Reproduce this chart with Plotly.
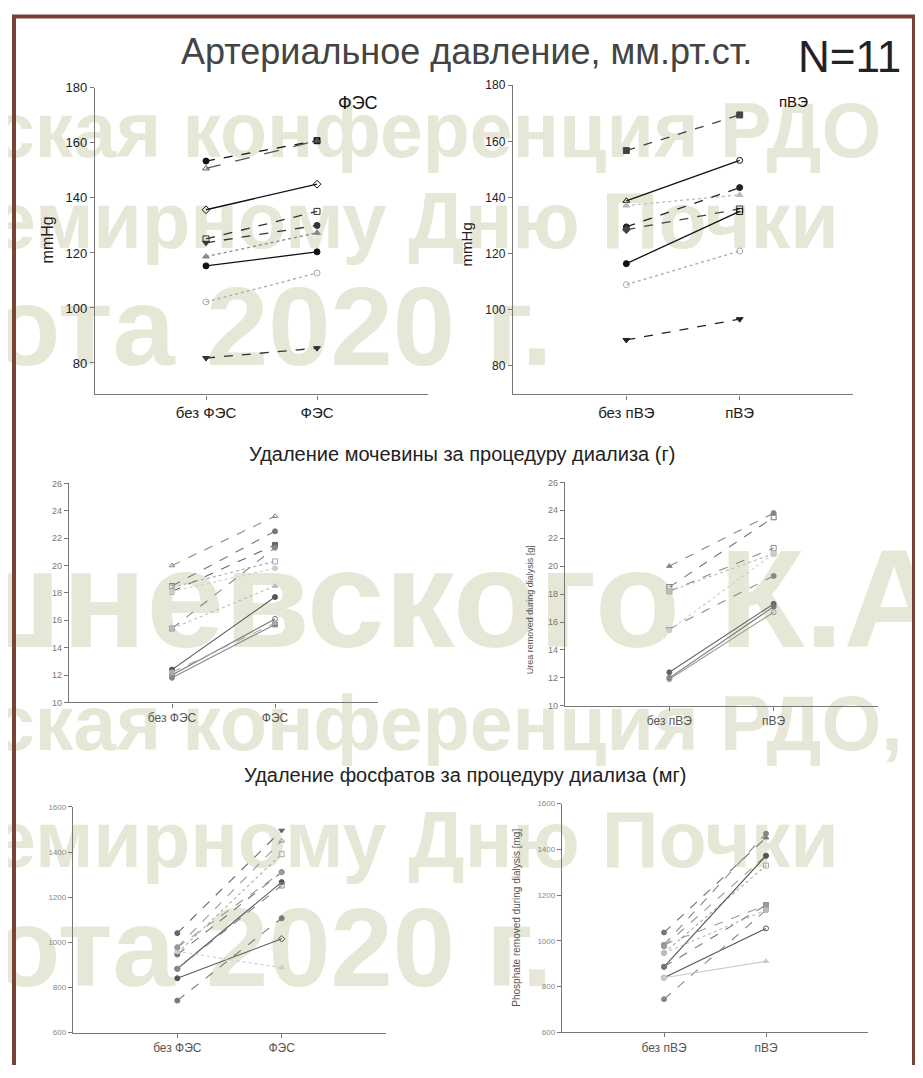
import plotly.graph_objects as go

# page has an 8px body margin, so the figure is placed at (8, 8)
OFF = 8
W, H = 907, 1062

# ---------------- data ----------------
cats_fes = ["без ФЭС", "ФЭС"]
cats_pve = ["без пВЭ", "пВЭ"]

bp_fes_before = [153.4, 150.7, 135.7, 125.1, 123.7, 118.7, 115.3, 102.2, 81.8]
bp_fes_after = [160.8, 160.8, 145.0, 135.1, 130.0, 127.3, 120.4, 112.7, 85.4]

bp_pve_before = [156.7, 138.8, 137.1, 129.5, 128.5, 116.4, 108.9, 89.2]
bp_pve_after = [169.4, 153.2, 140.9, 143.5, 135.9, 135.0, 120.9, 96.6]

urea_fes_before = [20.0, 18.5, 18.1, 18.4, 15.4, 15.4, 18.1, 12.4, 12.0, 11.8, 12.2]
urea_fes_after = [23.6, 22.5, 21.5, 20.3, 21.3, 18.5, 19.8, 17.7, 16.1, 15.7, 15.8]

urea_pve_before = [20.0, 18.5, 18.2, 18.2, 15.5, 15.4, 12.4, 12.0, 11.9]
urea_pve_after = [23.8, 23.5, 21.3, 20.9, 19.3, 20.9, 17.3, 17.1, 16.7]

phos_fes_before = [1041, 978, 953, 946, 883, 883, 841, 742, 960, 978]
phos_fes_after = [1496, 1450, 1391, 1311, 1267, 1252, 1016, 1107, 888, 1311]

phos_pve_before = [1036, 982, 975, 946, 886, 886, 838, 744, 982, 838, 946]
phos_pve_after = [1451, 1469, 1372, 1329, 1372, 1156, 1054, 1134, 1156, 910, 1134]

watermark_lines = [
    "шневского К.А", "ская конференция РДО", "емирному Дню Почки", "ота 2020 г.",
    "шневского К.А", "ская конференция РДО,", "емирному Дню Почки", "ота 2020 г.",
]

# ---------------- styles ----------------
bp_fes_style = [
    ("dash", "#111", "circle", "square"),
    ("longdash", "#555", "triangle-up-open", "triangle-up"),
    ("solid", "#111", "diamond-open", "diamond-open"),
    ("dash", "#333", "square-open", "square-open"),
    ("dash", "#333", "triangle-down", "circle"),
    ("dot", "#888", "triangle-up", "triangle-up"),
    ("solid", "#111", "circle", "circle"),
    ("dot", "#aaa", "circle-open", "circle-open"),
    ("dash", "#333", "triangle-down", "triangle-down"),
]
bp_pve_style = [
    ("dash", "#444", "square", "square"),
    ("solid", "#111", "triangle-up-open", "circle-open"),
    ("dot", "#bbb", "triangle-up", "triangle-up"),
    ("dash", "#222", "circle", "circle"),
    ("dash", "#444", "diamond", "square-open"),
    ("solid", "#111", "circle", "square-open"),
    ("dot", "#aaa", "circle-open", "circle-open"),
    ("dash", "#222", "triangle-down", "triangle-down"),
]
urea_fes_style = [
    ("dash", "#888", "triangle-up-open", "triangle-up-open"),
    ("dash", "#777", "square-open", "circle"),
    ("dash", "#666", "square", "square"),
    ("dot", "#aaa", "square-open", "square-open"),
    ("dash", "#888", "square", "circle"),
    ("dot", "#bbb", "circle", "triangle-up"),
    ("dot", "#ccc", "square", "circle"),
    ("solid", "#555", "circle", "circle"),
    ("solid", "#777", "circle-open", "circle-open"),
    ("solid", "#888", "circle", "square"),
    ("dash", "#aaa", "circle", "triangle-up"),
]
urea_pve_style = [
    ("dash", "#888", "triangle-up", "circle"),
    ("dash", "#777", "square-open", "square-open"),
    ("dash", "#888", "square", "square-open"),
    ("dot", "#bbb", "square", "square"),
    ("dash", "#888", "triangle-down", "circle"),
    ("dot", "#ccc", "circle", "circle"),
    ("solid", "#666", "circle", "circle"),
    ("solid", "#777", "circle", "circle"),
    ("solid", "#999", "circle-open", "circle-open"),
]
phos_fes_style = [
    ("dash", "#666", "circle", "triangle-down"),
    ("dash", "#999", "circle", "triangle-up-open"),
    ("dot", "#aaa", "circle-open", "square-open"),
    ("dash", "#777", "circle", "circle"),
    ("solid", "#555", "circle", "circle"),
    ("dash", "#888", "circle", "square-open"),
    ("solid", "#555", "circle", "diamond-open"),
    ("dash", "#777", "circle", "circle"),
    ("dot", "#ccc", "circle", "triangle-up"),
    ("dash", "#999", "circle", "circle"),
]
phos_pve_style = [
    ("dash", "#777", "circle", "triangle-up"),
    ("dash", "#888", "circle", "circle"),
    ("dash", "#999", "circle", "circle"),
    ("dot", "#aaa", "circle-open", "square-open"),
    ("solid", "#555", "circle", "circle"),
    ("dash", "#777", "circle", "square"),
    ("solid", "#555", "circle", "circle-open"),
    ("dash", "#888", "circle", "circle"),
    ("dash", "#999", "circle", "square"),
    ("solid", "#ccc", "circle", "triangle-up"),
    ("dot", "#bbb", "circle", "circle"),
]


def px(x):
    return (x - OFF) / W


def py(y):
    return 1 - (y - OFF) / H


fig = go.Figure()

# watermark layer (bottom subplot, page-pixel coordinates)
wm_x = [-55, -8, -8, -8, -55, -8, -8, -8]
wm_y = [-28, 132, 224, 334, 612, 732, 850, 962]
wm_size = [140, 77, 79, 112, 140, 77, 79, 112]
for t, xx, yy, s in zip(watermark_lines, wm_x, wm_y, wm_size):
    fig.add_trace(go.Scatter(
        x=[xx], y=[yy], mode="text", text=["<b>" + t + "</b>"],
        textposition="middle right",
        textfont=dict(family="Liberation Sans, Arial", size=s, color="rgb(231,231,216)"),
        hoverinfo="skip", showlegend=False, xaxis="x", yaxis="y", cliponaxis=True,
    ))

panels = [
    (bp_fes_before, bp_fes_after, bp_fes_style, cats_fes, (95, 428), (81.7, 391.7), (68.6, 180),
     [80, 100, 120, 140, 160, 180], dict(size=13, color="#222"), dict(size=15, color="#222"), 1.3, 6),
    (bp_pve_before, bp_pve_after, bp_pve_style, cats_pve, (513, 853), (79, 391.7), (69.8, 180),
     [80, 100, 120, 140, 160, 180], dict(size=12, color="#222"), dict(size=15, color="#222"), 1.3, 6),
    (urea_fes_before, urea_fes_after, urea_fes_style, cats_fes, (69, 378), (481.7, 703.3), (10, 26),
     [10, 12, 14, 16, 18, 20, 22, 24, 26], dict(size=9, color="#777"), dict(size=12, color="#555"), 1.1, 5),
    (urea_pve_before, urea_pve_after, urea_pve_style, cats_pve, (565, 878), (480.7, 706.7), (10, 26),
     [10, 12, 14, 16, 18, 20, 22, 24, 26], dict(size=9, color="#777"), dict(size=12, color="#555"), 1.1, 5),
    (phos_fes_before, phos_fes_after, phos_fes_style, cats_fes, (73, 386), (809, 1037.3), (600, 1600),
     [600, 800, 1000, 1200, 1400, 1600], dict(size=8, color="#888"), dict(size=12, color="#555"), 1.1, 5),
    (phos_pve_before, phos_pve_after, phos_pve_style, cats_pve, (562, 868), (805.7, 1036.7), (600, 1600),
     [600, 800, 1000, 1200, 1400, 1600], dict(size=8, color="#888"), dict(size=12, color="#555"), 1.1, 5),
]

layout_axes = {
    "xaxis": dict(domain=[0, 1], range=[OFF, OFF + W], visible=False, fixedrange=True),
    "yaxis": dict(domain=[0, 1], range=[OFF + H, OFF], visible=False, fixedrange=True),
}

for i, (bef, aft, sty, cats, xp, yp, yr, tv, tf, cf, lw, ms) in enumerate(panels):
    n = i + 2
    xa, ya = f"x{n}", f"y{n}"
    for b, a, (dash, col, s1, s2) in zip(bef, aft, sty):
        fig.add_trace(go.Scatter(
            x=[1, 2], y=[b, a], mode="lines+markers",
            line=dict(color=col, width=lw, dash=dash),
            marker=dict(symbol=[s1, s2], size=ms, color=col, line=dict(color=col, width=1)),
            showlegend=False, hoverinfo="skip", xaxis=xa, yaxis=ya, cliponaxis=False,
        ))
    layout_axes[f"xaxis{n}"] = dict(
        domain=[px(xp[0]), px(xp[1])], range=[0, 3], tickvals=[1, 2], ticktext=cats,
        showline=True, linecolor="#777", linewidth=1.4, ticks="outside", ticklen=4,
        tickcolor="#777", showgrid=False, zeroline=False, anchor=ya,
        tickfont=dict(family="Liberation Sans, Arial", **cf), fixedrange=True,
    )
    layout_axes[f"yaxis{n}"] = dict(
        domain=[py(yp[1]), py(yp[0])], range=list(yr), tickvals=tv,
        showline=True, linecolor="#777", linewidth=1.4, ticks="outside", ticklen=4,
        tickcolor="#777", showgrid=False, zeroline=False, anchor=xa,
        tickfont=dict(family="Liberation Sans, Arial", **tf), fixedrange=True,
    )

annotations = [
    dict(x=px(466), y=py(45), text="Артериальное давление, мм.рт.ст.",
         font=dict(family="Liberation Sans, Arial", size=36, color="#444")),
    dict(x=px(849), y=py(50), text="N=11",
         font=dict(family="Liberation Sans, Arial", size=44, color="#222")),
    dict(x=px(358), y=py(97), text="ФЭС",
         font=dict(family="Liberation Sans, Arial", size=18, color="#111")),
    dict(x=px(793), y=py(95), text="пВЭ",
         font=dict(family="Liberation Sans, Arial", size=15, color="#111")),
    dict(x=px(462), y=py(452), text="Удаление мочевины за процедуру диализа (г)",
         font=dict(family="Liberation Sans, Arial", size=20, color="#222")),
    dict(x=px(465), y=py(777), text="Удаление фосфатов за процедуру диализа (мг)",
         font=dict(family="Liberation Sans, Arial", size=20, color="#222")),
    dict(x=px(47), y=py(236), text="mmHg", textangle=-90,
         font=dict(family="Liberation Sans, Arial", size=16, color="#222")),
    dict(x=px(466), y=py(240), text="mmHg", textangle=-90,
         font=dict(family="Liberation Sans, Arial", size=15, color="#222")),
    dict(x=px(530), y=py(610), text="Urea removed during dialysis [g]", textangle=-90,
         font=dict(family="Liberation Sans, Arial", size=9, color="#555")),
    dict(x=px(517), y=py(921), text="Phosphate removed during dialysis [mg]", textangle=-90,
         font=dict(family="Liberation Sans, Arial", size=10, color="#555")),
]
for a in annotations:
    a.update(xref="paper", yref="paper", showarrow=False, xanchor="center", yanchor="middle")

frame_col = "#7b4236"
shapes = [
    dict(type="line", xref="paper", yref="paper", x0=px(14), x1=px(14), y0=py(8), y1=0,
         line=dict(color=frame_col, width=4)),
    dict(type="line", xref="paper", yref="paper", x0=px(12), x1=px(916), y0=py(9.5), y1=py(9.5),
         line=dict(color=frame_col, width=4)),
    dict(type="line", xref="paper", yref="paper", x0=px(914), x1=px(914), y0=py(8), y1=0,
         line=dict(color=frame_col, width=4)),
]

fig.update_layout(
    width=W, height=H, autosize=False,
    margin=dict(l=0, r=0, t=0, b=0),
    paper_bgcolor="white", plot_bgcolor="rgba(0,0,0,0)",
    showlegend=False, annotations=annotations, shapes=shapes,
    font=dict(family="Liberation Sans, Arial"),
    **layout_axes,
)

fig.write_html("out.html", config={"displayModeBar": False})
